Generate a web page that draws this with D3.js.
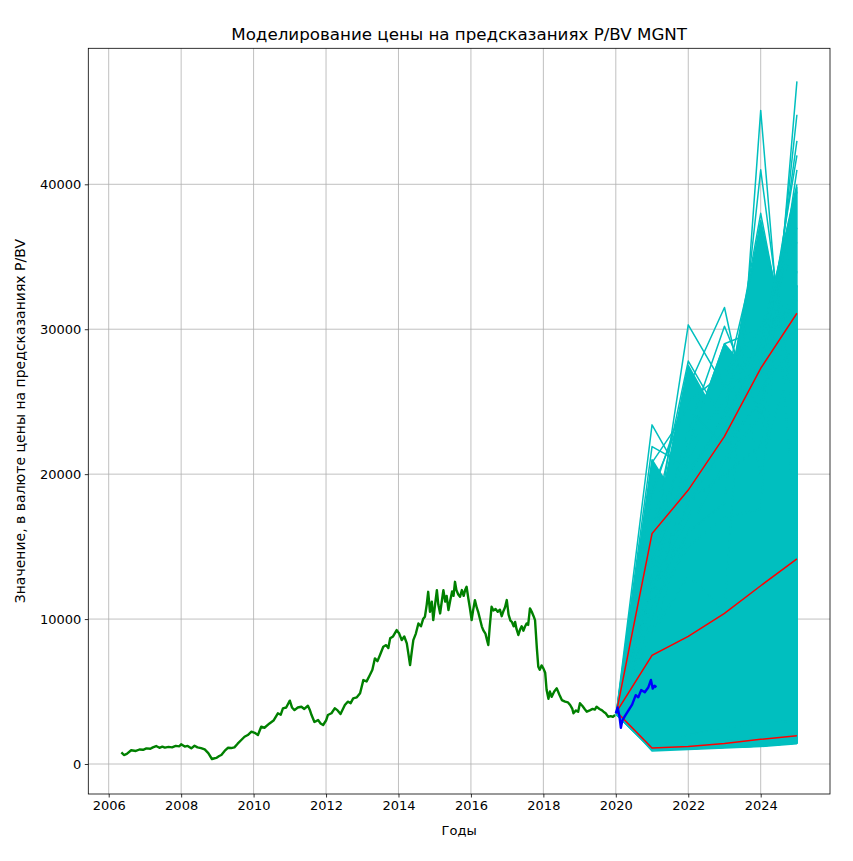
<!DOCTYPE html>
<html><head><meta charset="utf-8">
<script src="https://cdn.jsdelivr.net/npm/d3@7"></script>
<style>
body{margin:0;background:#fff;}
svg{display:block;font-family:"DejaVu Sans",sans-serif;}
</style></head>
<body>
<svg id="chart" width="853" height="861"></svg>
<script>
// ---------- DATA ----------
const titleText = "Моделирование цены на предсказаниях P/BV MGNT";
const xLabel = "Годы";
const yLabel = "Значение, в валюте цены на предсказаниях P/BV";
const xTicks = [2006, 2008, 2010, 2012, 2014, 2016, 2018, 2020, 2022, 2024];
const yTicks = [0, 10000, 20000, 30000, 40000];

// historical price (year, value)
const histYears = [2006.35,2006.42,2006.5,2006.62,2006.75,2006.85,2006.95,2007.04,2007.15,2007.22,2007.31,2007.4,2007.48,2007.55,2007.65,2007.75,2007.85,2007.95,2008.0,2008.1,2008.18,2008.28,2008.37,2008.45,2008.55,2008.65,2008.75,2008.85,2008.9,2008.97,2009.05,2009.11,2009.2,2009.29,2009.38,2009.47,2009.56,2009.66,2009.75,2009.84,2009.94,2010.03,2010.12,2010.21,2010.3,2010.44,2010.55,2010.67,2010.75,2010.81,2010.9,2011.0,2011.06,2011.13,2011.22,2011.32,2011.4,2011.5,2011.55,2011.6,2011.68,2011.78,2011.85,2011.92,2012.0,2012.05,2012.15,2012.24,2012.32,2012.4,2012.52,2012.6,2012.68,2012.75,2012.85,2012.94,2013.03,2013.12,2013.21,2013.28,2013.35,2013.42,2013.49,2013.58,2013.66,2013.72,2013.77,2013.85,2013.95,2014.02,2014.09,2014.16,2014.23,2014.28,2014.32,2014.37,2014.41,2014.48,2014.55,2014.62,2014.68,2014.73,2014.78,2014.82,2014.87,2014.92,2014.96,2015.01,2015.06,2015.1,2015.15,2015.2,2015.24,2015.29,2015.33,2015.38,2015.43,2015.48,2015.52,2015.56,2015.6,2015.65,2015.7,2015.75,2015.8,2015.84,2015.88,2015.93,2015.97,2016.02,2016.06,2016.11,2016.16,2016.2,2016.25,2016.3,2016.34,2016.4,2016.44,2016.48,2016.52,2016.57,2016.62,2016.68,2016.74,2016.8,2016.85,2016.89,2016.94,2016.99,2017.04,2017.09,2017.13,2017.18,2017.22,2017.26,2017.31,2017.36,2017.4,2017.45,2017.49,2017.54,2017.58,2017.63,2017.68,2017.73,2017.77,2017.82,2017.86,2017.9,2017.95,2018.0,2018.05,2018.09,2018.14,2018.18,2018.23,2018.3,2018.37,2018.44,2018.51,2018.6,2018.68,2018.74,2018.8,2018.83,2018.9,2018.96,2019.01,2019.08,2019.14,2019.2,2019.28,2019.36,2019.42,2019.47,2019.55,2019.62,2019.66,2019.72,2019.79,2019.86,2019.92,2019.98];
const histValues = [800,620,700,950,900,1000,980,1080,1050,1150,1240,1120,1200,1130,1180,1150,1250,1220,1360,1200,1250,1080,1260,1150,1100,1010,750,345,380,420,550,620,900,1120,1100,1150,1400,1655,1880,2000,2230,2150,2000,2570,2500,2800,3000,3500,3400,3840,3900,4370,3900,3720,3900,3950,3800,4020,3750,3380,2900,3030,2800,2690,3000,3380,3500,3840,3700,3450,4070,4300,4200,4530,4600,4880,5790,5700,6140,6500,7290,7100,7520,8090,8200,8000,8670,8800,9240,9000,8550,8800,8320,7500,6830,7800,8550,9000,9700,9500,10000,10160,11000,11880,10500,11200,9930,11000,12000,11000,10390,11300,12000,11200,11600,10620,11300,11900,11600,12570,12000,11700,11540,12000,11600,12000,12230,11400,10800,9930,10600,11310,10800,10500,10000,9500,9240,9000,8600,8210,9500,10850,10600,10700,10500,10650,10200,10500,10800,11310,10300,9900,9810,9500,9800,9300,8900,9300,9500,9200,9470,9700,9600,10740,10500,10200,9930,8000,6710,6500,6800,6600,6300,5100,4500,5000,4640,5000,5220,4800,4410,4300,4250,4070,3800,3500,3700,3600,4190,4000,3800,3610,3700,3800,3750,3950,3800,3700,3610,3500,3260,3300,3250,3380];

// actual price after forecast start
const actualYears = [2020.0,2020.05,2020.1,2020.14,2020.18,2020.25,2020.35,2020.45,2020.55,2020.62,2020.7,2020.8,2020.9,2020.97,2021.02,2021.07,2021.12];
const actualValues = [3500,3900,3300,2500,3000,3300,3700,4100,4750,4600,5100,4950,5300,5800,5200,5400,5300];

// simulation grid
const simYears = [2020.02, 2021, 2022, 2023, 2024, 2025];
const simStart = 3600;
// lower edge of the dense bundle of simulated paths
const coreBottom = [3400, 1000, 1050, 1150, 1250, 1450];
// top paths of the dense bundle (values 2021..2025), filled down to coreBottom
const densePaths = [
  [21000, 17000, 20000, 24000, 30000],
  [15000, 27500, 23000, 26000, 31000],
  [16000, 22000, 29000, 26000, 33000],
  [14000, 20000, 24000, 37500, 26000],
  [12000, 18000, 22000, 29000, 39800]
];
// individually visible simulated paths (values 2021..2025)
const simPaths = [
  [23400, 19000, 21000, 26000, 29000],
  [21900, 20500, 23000, 27000, 31000],
  [20800, 24500, 22000, 25000, 33000],
  [14000, 30300, 26000, 29000, 32000],
  [16000, 27800, 23500, 27500, 30000],
  [18500, 26000, 31500, 20000, 30000],
  [14000, 23000, 30200, 24000, 34000],
  [9000, 13000, 10600, 45100, 15200],
  [12000, 16000, 18000, 41000, 22000],
  [15000, 20000, 24000, 38000, 25000],
  [13000, 21000, 26000, 36500, 28000],
  [11000, 15000, 17000, 17600, 47100],
  [10000, 18000, 20000, 22000, 44800],
  [12000, 17000, 22000, 25000, 43000],
  [14000, 19000, 23000, 27000, 42000],
  [9000, 16000, 21000, 24000, 41000],
  [16000, 22000, 25000, 29000, 40000],
  [11000, 20000, 24000, 28000, 39500],
  [19000, 25000, 27000, 30000, 37000],
  [12000, 22000, 29000, 30000, 36000],
  [900, 1000, 1100, 1200, 1400],
  [1000, 1400, 1600, 1800, 2100],
  [1100, 2000, 2500, 2800, 3000]
];
// quantile lines
const qUpper = [3600, 15900, 18900, 22600, 27300, 31100];
const qMedian = [3600, 7500, 8800, 10400, 12300, 14150];
const qLower = [3600, 1100, 1200, 1420, 1700, 1950];

// ---------- LAYOUT ----------
const L = 88.3, R = 830, T = 48.3, B = 794;
const svg = d3.select("#chart");
const x = d3.scaleLinear().domain([2005.4368, 2025.9132]).range([L, R]);
const y = d3.scaleLinear().domain([-2070, 49384]).range([B, T]);

// grid
const g = svg.append("g");
g.selectAll(".vg").data(xTicks).enter().append("line")
  .attr("x1", d => x(d)).attr("x2", d => x(d)).attr("y1", T).attr("y2", B)
  .attr("stroke", "#b0b0b0").attr("stroke-width", 0.8);
g.selectAll(".hg").data(yTicks).enter().append("line")
  .attr("x1", L).attr("x2", R).attr("y1", d => y(d)).attr("y2", d => y(d))
  .attr("stroke", "#b0b0b0").attr("stroke-width", 0.8);

const line = d3.line().x(d => x(d[0])).y(d => y(d[1]));
const plot = svg.append("g");

// historical
plot.append("path")
  .attr("d", line(histYears.map((yr, i) => [yr, histValues[i]])))
  .attr("fill", "none").attr("stroke", "#008000").attr("stroke-width", 2.4)
  .attr("stroke-linejoin", "round");

// simulation body
const cyan = "#00bfbf";
const area = d3.area().x(d => x(d[0])).y0(d => y(d[1])).y1(d => y(d[2]));
densePaths.forEach(p => {
  const pts = simYears.map((yr, i) => [yr, coreBottom[i], i === 0 ? simStart : p[i - 1]]);
  plot.append("path").attr("d", area(pts))
    .attr("fill", cyan).attr("stroke", cyan).attr("stroke-width", 1.5)
    .attr("stroke-linejoin", "round");
});
simPaths.forEach(p => {
  const pts = [[simYears[0], simStart]].concat(p.map((v, i) => [simYears[i + 1], v]));
  plot.append("path").attr("d", line(pts))
    .attr("fill", "none").attr("stroke", cyan).attr("stroke-width", 1.5)
    .attr("stroke-linejoin", "round");
});

// quantiles
[qUpper, qMedian, qLower].forEach(q => {
  plot.append("path").attr("d", line(simYears.map((yr, i) => [yr, q[i]])))
    .attr("fill", "none").attr("stroke", "#ff0000").attr("stroke-width", 1.5);
});

// actual
plot.append("path")
  .attr("d", line(actualYears.map((yr, i) => [yr, actualValues[i]])))
  .attr("fill", "none").attr("stroke", "#0000ff").attr("stroke-width", 2.4)
  .attr("stroke-linejoin", "round");

// axes
const xAxis = d3.axisBottom(x).tickValues(xTicks).tickFormat(d => String(d)).tickSize(3.5).tickPadding(3.5);
const yAxis = d3.axisLeft(y).tickValues(yTicks).tickFormat(d => String(d)).tickSize(3.5).tickPadding(3.5);
const gx = svg.append("g").attr("transform", `translate(0,${B})`).call(xAxis);
const gy = svg.append("g").attr("transform", `translate(${L},0)`).call(yAxis);
[gx, gy].forEach(a => {
  a.select(".domain").remove();
  a.selectAll("line").attr("stroke", "#000").attr("stroke-width", 0.8);
  a.selectAll("text").attr("fill", "#000").style("font-family", "DejaVu Sans").style("font-size", "13px");
});
gx.selectAll("text").attr("dy", "0.71em");

// frame
svg.append("rect").attr("x", L).attr("y", T).attr("width", R - L).attr("height", B - T)
  .attr("fill", "none").attr("stroke", "#000").attr("stroke-width", 0.8);

// labels
svg.append("text").attr("x", (L + R) / 2).attr("y", 40).attr("text-anchor", "middle")
  .style("font-size", "16.7px").text(titleText);
svg.append("text").attr("x", (L + R) / 2).attr("y", 835).attr("text-anchor", "middle")
  .style("font-size", "13px").text(xLabel);
svg.append("text").attr("transform", `translate(25,${(T + B) / 2}) rotate(-90)`)
  .attr("text-anchor", "middle").style("font-size", "14px").text(yLabel);
</script>
</body></html>
